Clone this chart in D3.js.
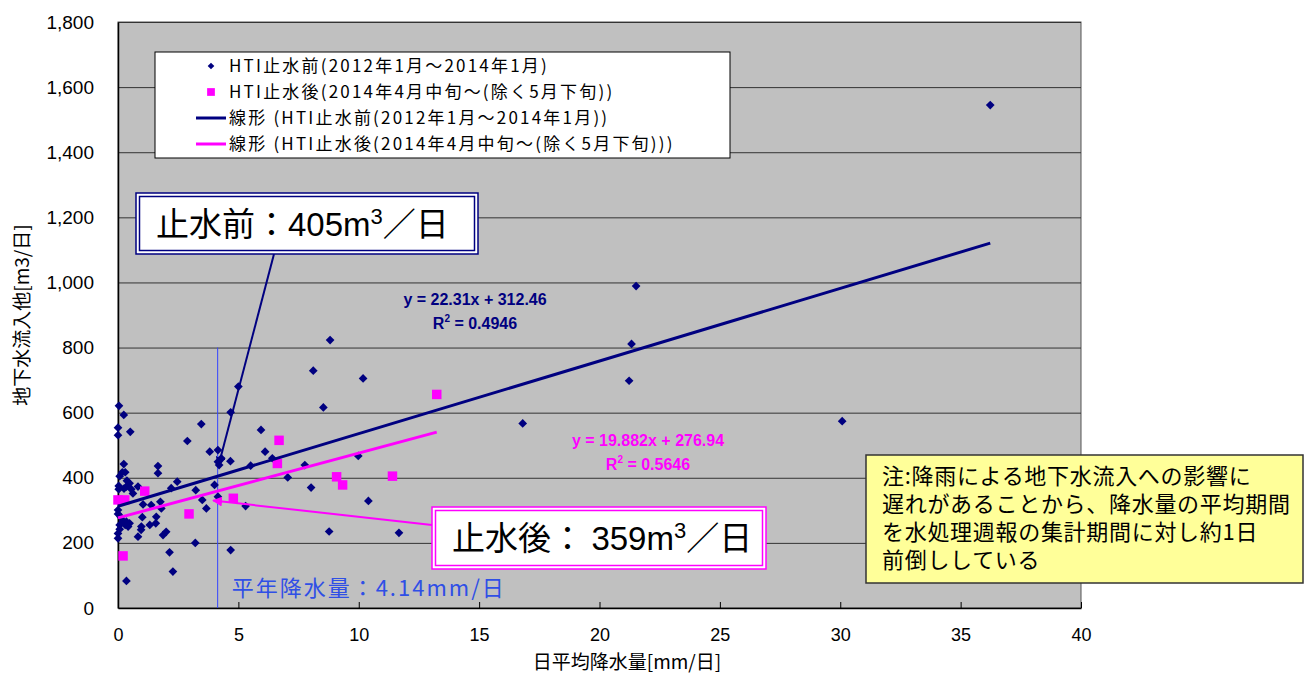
<!DOCTYPE html>
<meta charset="utf-8">
<style>
body { margin: 0; background: #fff; }
svg text { font-family: "Liberation Sans", Arial, sans-serif; }
.jp { font-family: "Noto Sans CJK JP", sans-serif; }
.axis path { stroke: #000; }
.axis line { stroke: #000; }
</style>
<svg width="1310" height="675"></svg>
<script src="https://d3js.org/d3.v7.min.js"></script>
<script>

// rainfall [mm/day] vs groundwater inflow [m3/day], before HTI water stop
var beforeX = [0.04, 0.24, 0, 0, 0.51, 0.24, 0.18, 0.3, 0.07, 0.37, 0.48, 0.35, 0.25, 0.03, 0.03, 0.55, 0.83, 0.62,
  0, 0, 0.11, 0.21, 0.35, 0.48, 0.42, 0.3, 0.07, 0.07, 0, 0, 0.83, 0.35,
  0.96, 1.01, 1.04, 1.38, 1.76, 1.8, 1.59, 1.57, 1.32, 0.97, 1.87, 2.0, 2.14, 2.28, 1.66, 1.66,
  2.46, 2.21, 3.23, 2.88, 3.46, 3.81, 4.15, 4.15, 4.29, 4.67, 4.2, 4.01, 3.5, 3.67, 4.15, 3.21, 4.68,
  5.0, 4.68, 5.94, 6.11, 6.41, 5.51, 7.05, 5.3, 7.76, 8.81, 8.11, 10.18, 8.53, 9.98, 8.02, 10.4,
  8.77, 11.67, 16.81, 21.52, 21.33, 21.23, 30.08, 36.23];
var beforeY = [621, 593, 554, 531, 541, 442, 417, 417, 405, 391, 383, 373, 367, 375, 365, 365, 373, 352,
  301, 289, 280, 268, 265, 260, 250, 255, 255, 242, 229, 214, 219, 83,
  240, 279, 318, 316, 326, 306, 280, 260, 255, 250, 224, 234, 171, 112, 436, 414,
  388, 368, 362, 513, 565, 480, 485, 449, 460, 451, 439, 378, 332, 306, 342, 200, 178,
  680, 601, 547, 480, 460, 437, 401, 313, 439, 823, 729, 705, 616, 467, 370, 329,
  235, 231, 567, 989, 811, 698, 574, 1545];

// after HTI water stop (mid-April 2014 onward)
var afterX = [0, 0.28, 1.11, 0.21, 2.95, 4.79, 6.69, 6.62, 9.08, 9.33, 11.4, 13.24];
var afterY = [332, 332, 359, 160, 289, 337, 515, 444, 403, 378, 405, 656];

// trend lines as printed on the chart
var fitBefore = { slope: 22.31, intercept: 312.46 };
var fitAfter = { slope: 19.882, intercept: 276.94 };

var xTicks = [0, 5, 10, 15, 20, 25, 30, 35, 40];
var yTicks = [0, 200, 400, 600, 800, 1000, 1200, 1400, 1600, 1800];
var annualRain = 4.14;

var legendLabels = [
  "HTI止水前(2012年1月～2014年1月)",
  "HTI止水後(2014年4月中旬～(除く5月下旬))",
  "線形 (HTI止水前(2012年1月～2014年1月))",
  "線形 (HTI止水後(2014年4月中旬～(除く5月下旬)))"
];
var noteLines = [
  "注:降雨による地下水流入への影響に",
  "遅れがあることから、降水量の平均期間",
  "を水処理週報の集計期間に対し約1日",
  "前倒ししている"
];

var navy = "#000080", magenta = "#ff00ff", blue = "#2f4fe6";

var svg = d3.select("svg"),
    margin = { left: 118, top: 22, right: 229, bottom: 67 },
    width = 1310 - margin.left - margin.right,
    height = 675 - margin.top - margin.bottom;

var x = d3.scaleLinear().domain([0, 40]).range([margin.left, margin.left + width]);
var y = d3.scaleLinear().domain([0, 1800]).range([margin.top + height, margin.top]);

var defs = svg.append("defs");
[["arrNavy", navy], ["arrMag", magenta]].forEach(function(m) {
  defs.append("marker")
      .attr("id", m[0])
      .attr("viewBox", "0 0 10 10")
      .attr("refX", 9).attr("refY", 5)
      .attr("markerWidth", 5).attr("markerHeight", 5)
      .attr("orient", "auto")
    .append("path")
      .attr("d", "M0,0L10,5L0,10z")
      .attr("fill", m[1]);
});

// plot area
svg.append("rect")
    .attr("x", x(0)).attr("y", y(1800))
    .attr("width", x(40) - x(0)).attr("height", y(0) - y(1800))
    .attr("fill", "#c0c0c0")
    .attr("stroke", "#555").attr("stroke-width", 1);

svg.append("g")
    .selectAll("line")
    .data(yTicks.slice(1))
    .enter().append("line")
      .attr("x1", x(0)).attr("x2", x(40))
      .attr("y1", function(d) { return y(d) + 0.5; })
      .attr("y2", function(d) { return y(d) + 0.5; })
      .attr("stroke", "#333").attr("stroke-width", 1);

// axes
var xAxis = svg.append("g")
    .attr("class", "axis")
    .attr("transform", "translate(0," + y(0) + ")")
    .call(d3.axisBottom(x).tickValues(xTicks).tickSizeInner(-6).tickSizeOuter(0).tickPadding(20));
xAxis.selectAll("text").attr("font-size", 18).attr("fill", "#000")
    .style("font-family", "'Liberation Sans Narrow', 'Liberation Sans', sans-serif");
xAxis.select(".domain").attr("stroke-width", 1.5);

var yAxis = svg.append("g")
    .attr("class", "axis")
    .attr("transform", "translate(" + x(0) + ",0)")
    .call(d3.axisLeft(y).tickValues(yTicks).tickFormat(d3.format(",")).tickSizeInner(0).tickSizeOuter(0).tickPadding(24));
yAxis.selectAll("text").attr("font-size", 19).attr("fill", "#000");
yAxis.select(".domain").attr("stroke-width", 1.5);

svg.append("text")
    .attr("class", "jp")
    .attr("x", 627).attr("y", 669)
    .attr("text-anchor", "middle")
    .attr("font-size", 19)
    .text("日平均降水量[mm/日]");

svg.append("text")
    .attr("class", "jp")
    .attr("transform", "translate(29," + (margin.top + height / 2) + ") rotate(-90)")
    .attr("text-anchor", "middle")
    .attr("font-size", 19)
    .text("地下水流入他[m3/日]");

// annual mean rainfall marker
svg.append("line")
    .attr("x1", x(annualRain)).attr("x2", x(annualRain))
    .attr("y1", y(800)).attr("y2", y(0))
    .attr("stroke", "#3344ff").attr("stroke-width", 1);
svg.append("text")
    .attr("class", "jp")
    .attr("x", x(annualRain) + 14).attr("y", 596)
    .attr("font-size", 22)
    .attr("letter-spacing", 2)
    .attr("fill", blue)
    .text("平年降水量：4.14mm/日");

// points
var diamond = d3.symbol().type(d3.symbolSquare).size(38);
var square = d3.symbol().type(d3.symbolSquare).size(90);

svg.append("g")
    .selectAll("path")
    .data(d3.zip(beforeX, beforeY))
    .enter().append("path")
      .attr("d", diamond)
      .attr("transform", function(d) { return "translate(" + x(d[0]) + "," + y(d[1]) + ") rotate(45)"; })
      .attr("fill", navy);

svg.append("g")
    .selectAll("path")
    .data(d3.zip(afterX, afterY))
    .enter().append("path")
      .attr("d", square)
      .attr("transform", function(d) { return "translate(" + x(d[0]) + "," + y(d[1]) + ")"; })
      .attr("fill", magenta);

// trend lines
function trend(xs, fit, color) {
  var ext = d3.extent(xs);
  svg.append("line")
      .attr("x1", x(ext[0])).attr("y1", y(fit.slope * ext[0] + fit.intercept))
      .attr("x2", x(ext[1])).attr("y2", y(fit.slope * ext[1] + fit.intercept))
      .attr("stroke", color).attr("stroke-width", 3);
}
trend(beforeX, fitBefore, navy);
trend(afterX, fitAfter, magenta);

// equations
function equation(cx, yy, fit, r2, color) {
  var g = svg.append("g").attr("fill", color).attr("font-weight", "bold").attr("font-size", 16)
      .style("font-family", "'Liberation Sans Narrow', 'Liberation Sans', sans-serif");
  g.append("text").attr("x", cx).attr("y", yy).attr("text-anchor", "middle")
      .text("y = " + fit.slope + "x + " + fit.intercept);
  var t = g.append("text").attr("x", cx).attr("y", yy + 24).attr("text-anchor", "middle");
  t.append("tspan").text("R");
  t.append("tspan").attr("dy", -7).attr("font-size", 10).text("2");
  t.append("tspan").attr("dy", 7).text(" = " + r2);
}
equation(475, 305, fitBefore, "0.4946", navy);
equation(648, 446, fitAfter, "0.5646", magenta);

// callouts
function callout(bx, by, bw, bh, color, label, value, anchor, arrowId) {
  svg.append("line")
      .attr("x1", anchor.from[0]).attr("y1", anchor.from[1])
      .attr("x2", x(anchor.to[0])).attr("y2", y(anchor.to[1]))
      .attr("stroke", color).attr("stroke-width", 2)
      .attr("marker-end", "url(#" + arrowId + ")");
  svg.append("rect")
      .attr("x", bx).attr("y", by).attr("width", bw).attr("height", bh)
      .attr("fill", "#fff").attr("stroke", color).attr("stroke-width", 1.5);
  svg.append("rect")
      .attr("x", bx + 3.5).attr("y", by + 3.5).attr("width", bw - 7).attr("height", bh - 7)
      .attr("fill", "none").attr("stroke", color).attr("stroke-width", 1.5);
  var t = svg.append("text")
      .attr("class", "jp")
      .attr("x", bx + 20).attr("y", by + bh / 2 + 12)
      .attr("font-size", 33)
      .attr("fill", "#000");
  t.append("tspan").text(label);
  t.append("tspan").style("font-family", "'Liberation Sans', sans-serif").text(value + "m");
  t.append("tspan").attr("dy", -12).attr("font-size", 22).style("font-family", "'Liberation Sans', sans-serif").text("3");
  t.append("tspan").attr("dy", 12).text("／日");
}
callout(136, 193, 342, 61, navy, "止水前：", "405", { from: [274, 254], to: [4.17, 436] }, "arrNavy");
callout(432, 507, 334, 62, magenta, "止水後： ", "359", { from: [432, 525], to: [3.95, 330] }, "arrMag");

// legend
var lg = svg.append("g");
lg.append("rect")
    .attr("x", 155).attr("y", 52).attr("width", 575).attr("height", 106)
    .attr("fill", "#fff").attr("stroke", "#000").attr("stroke-width", 1);
legendLabels.forEach(function(lab, i) {
  var cy = 66 + i * 26;
  if (i === 0) {
    lg.append("path").attr("d", d3.symbol().type(d3.symbolSquare).size(22))
        .attr("transform", "translate(211," + cy + ") rotate(45)").attr("fill", navy);
  } else if (i === 1) {
    lg.append("path").attr("d", d3.symbol().type(d3.symbolSquare).size(60))
        .attr("transform", "translate(211," + cy + ")").attr("fill", magenta);
  } else {
    lg.append("line").attr("x1", 196).attr("x2", 226).attr("y1", cy).attr("y2", cy)
        .attr("stroke", i === 2 ? navy : magenta).attr("stroke-width", 3);
  }
  lg.append("text")
      .attr("class", "jp")
      .attr("x", 229).attr("y", cy + 6)
      .attr("font-size", 17)
      .attr("letter-spacing", 2.2)
      .text(lab);
});

// note box
var nb = svg.append("g");
nb.append("rect")
    .attr("x", 866).attr("y", 455).attr("width", 437).attr("height", 128)
    .attr("fill", "#ffff99").attr("stroke", "#333").attr("stroke-width", 1.5);
noteLines.forEach(function(line, i) {
  nb.append("text")
      .attr("class", "jp")
      .attr("x", 882).attr("y", 484 + i * 28)
      .attr("font-size", 22)
      .attr("letter-spacing", 0.7)
      .text(line);
});

</script>
